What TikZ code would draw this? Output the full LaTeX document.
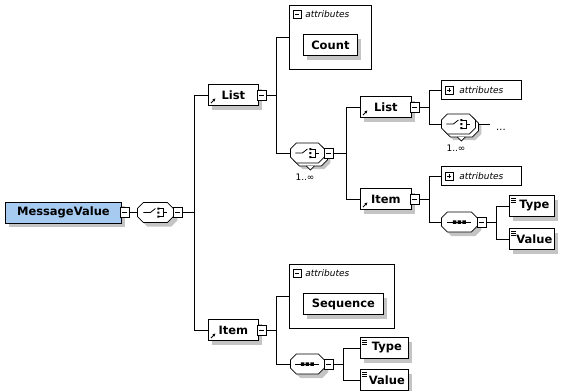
\documentclass[tikz,border=0pt]{standalone}
\usepackage{fontspec}
\setmainfont{DejaVu Sans}
\usepackage{tikz}
\usetikzlibrary{shadows, arrows.meta}

\definecolor{rootblue}{RGB}{166,202,240}
\definecolor{shade}{RGB}{196,196,196}

% compositor outline, drawn round the origin
\newcommand{\octagon}[2][]{\draw[#1] (-#2,-4) -- (-#2+6,-10) -- (#2-6,-10) -- (#2,-4)
    -- (#2,4) -- (#2-6,10) -- (-#2+6,10) -- (-#2,4) -- cycle;}
\newcommand{\choicesym}{%
    \draw (-12,0) -- (-5,0) -- (0,-4);
    \fill (2,-5) rectangle (4,-3) (2,-1) rectangle (4,1) (2,3) rectangle (4,5);
    \draw (4,-4) -- (8,-4) -- (8,4) -- (4,4) (8,0) -- (12,0);}
\newcommand{\seqsym}{%
    \draw (-12,0) -- (12,0);
    \fill (-6.5,-1.75) rectangle (-3,1.75) (-1.75,-1.75) rectangle (1.75,1.75) (3,-1.75) rectangle (6.5,1.75);}

\begin{document}
\begin{tikzpicture}[x=1pt, y=-1pt, line width=0.8pt,
    shadowed/.style={general shadow={shadow xshift=4pt, shadow yshift=-4pt, fill=shade}},
    elem/.style={draw, fill=white, shadowed, anchor=west, minimum width=#1, minimum height=21, inner sep=0,
        font=\bfseries\fontsize{11.5}{12}\selectfont},
    refelem/.style={elem=#1, path picture={
        \draw[-{Stealth[length=3pt, width=3pt]}, line width=0.9pt]
            ([shift={(2.5,-2.5)}]path picture bounding box.south west) -- ++(4.5,-4.5);}},
    simple/.style={elem=#1, execute at begin node=\hspace*{5pt}, path picture={
        \draw[line width=0.6pt] ([shift={(2,2.5)}]path picture bounding box.north west) -- ++(5,0)
            ++(-5,2) -- ++(5,0) ++(-5,2) -- ++(5,0);}},
    expbox/.style={draw, fill=white, anchor=west, minimum width=9, minimum height=10, inner sep=0,
        path picture={\draw ([xshift=-2.5pt]path picture bounding box.center) -- ++(5,0);}},
    compnode/.style={anchor=west, minimum width=#1, minimum height=20, inner sep=0},
    attrminus/.style={path picture={
        \draw[line width=0.6pt] ([shift={(4pt,4pt)}]path picture bounding box.west) rectangle ++(8,8);
        \draw[line width=0.6pt] ([shift={(6pt,0pt)}]path picture bounding box.west) -- ++(4,0);}},
    attrplus/.style={path picture={
        \draw[line width=0.6pt] ([shift={(4pt,4pt)}]path picture bounding box.west) rectangle ++(8,8);
        \draw[line width=0.6pt] ([shift={(6pt,0pt)}]path picture bounding box.west) -- ++(4,0);
        \draw[line width=0.6pt] ([shift={(8pt,2pt)}]path picture bounding box.west) -- ++(0,4);}},
    attrgroup/.style={draw, fill=white, anchor=north west, inner sep=0},
    attrhead/.style={attrminus, anchor=north west, inner xsep=0, inner ysep=2,
        font=\itshape\fontsize{9}{10}\selectfont},
    attrclosed/.style={attrplus, draw, fill=white, anchor=west, minimum height=19, text width=72,
        inner xsep=4, inner ysep=0, align=left, font=\itshape\fontsize{9}{10}\selectfont},
    mult/.style={inner sep=0, font=\fontsize{9}{10}\selectfont}]
    \useasboundingbox (0,0) rectangle (563,391);

    % root element
    \node[elem=116, fill=rootblue] (mv) at (5,212.5) {MessageValue};
    \node[expbox] (mvx) at ([xshift=-2pt]mv.east) {};
    \node[compnode=36] (ch1) at (137,212.5) {};
    \begin{scope}[shift={(ch1.center)}]
        \octagon[draw=none, fill=shade, shift={(4,4)}]{18}
        \octagon[fill=white]{18}
        \choicesym
    \end{scope}
    \node[expbox] (ch1x) at ([xshift=-1pt]ch1.east) {};
    \draw (mvx.east) -- (ch1.west);

    \node[refelem=50] (list1) at (208,95) {List};
    \node[expbox] (list1x) at ([xshift=-2pt]list1.east) {};
    \node[refelem=50] (item1) at (208,330) {Item};
    \node[expbox] (item1x) at ([xshift=-2pt]item1.east) {};
    \draw (ch1x.east) -- ++(12,0) |- (list1.west);
    \draw (ch1x.east) -- ++(12,0) |- (item1.west);

    % List
    \node[attrgroup, minimum width=82, minimum height=64] (attr1) at (289,5) {};
    \node[attrhead] (attr1h) at (289,8) {\hspace*{16pt}attributes};
    \node[elem=54] (count) at (303,45) {Count};
    \node[compnode=34] (ch2) at (290,153) {};
    \begin{scope}[shift={(ch2.center)}]
        \octagon[draw=none, fill=shade, shift={(6,6)}]{17}
        \octagon[fill=white, shift={(3,3)}]{17}
        \draw[fill=white] (-1,13) -- (3,17) -- (7,13);
        \octagon[fill=white]{17}
        \choicesym
    \end{scope}
    \node[expbox] (ch2x) at ([xshift=-1pt]ch2.east) {};
    \node[mult] (ch2m) at (305,177) {1..∞};
    \draw (list1x.east) -- ++(10,0) |- (attr1.west);
    \draw (list1x.east) -- ++(10,0) |- (ch2.west);

    \node[refelem=51] (list2) at (360,107) {List};
    \node[expbox] (list2x) at ([xshift=-2pt]list2.east) {};
    \node[refelem=51] (item2) at (360,199) {Item};
    \node[expbox] (item2x) at ([xshift=-2pt]item2.east) {};
    \draw (ch2x.east) -- ++(13,0) |- (list2.west);
    \draw (ch2x.east) -- ++(13,0) |- (item2.west);

    \node[attrclosed] (attr2) at (441,90) {\hspace*{14pt}attributes};
    \node[compnode=34] (ch3) at (441,124) {};
    \begin{scope}[shift={(ch3.center)}]
        \octagon[draw=none, fill=shade, shift={(6,6)}]{17}
        \octagon[fill=white, shift={(3,3)}]{17}
        \draw[fill=white] (-1,13) -- (3,17) -- (7,13);
        \octagon[fill=white]{17}
        \choicesym
    \end{scope}
    \node[mult] (ch3m) at (456,148) {1..∞};
    \coordinate (ch3end) at (490,124);
    \node[inner sep=0] (more) at (501,130) {...};
    \draw (list2x.east) -- ++(10,0) |- (attr2.west);
    \draw (list2x.east) -- ++(10,0) |- (ch3.west);
    \draw ([xshift=3pt]ch3.east) -- (ch3end);

    \node[attrclosed] (attr3) at (441,176) {\hspace*{14pt}attributes};
    \node[compnode=36] (seq2) at (441,222) {};
    \begin{scope}[shift={(seq2.center)}]
        \octagon[draw=none, fill=shade, shift={(4,4)}]{18}
        \octagon[fill=white]{18}
        \seqsym
    \end{scope}
    \node[expbox] (seq2x) at ([xshift=-1pt]seq2.east) {};
    \node[simple=45] (type2) at (509,206) {Type};
    \node[simple=45] (value2) at (509,239) {Value};
    \draw (item2x.east) -- ++(10,0) |- (attr3.west);
    \draw (item2x.east) -- ++(10,0) |- (seq2.west);
    \draw (seq2x.east) -- ++(10,0) |- (type2.west);
    \draw (seq2x.east) -- ++(10,0) |- (value2.west);

    % Item
    \node[attrgroup, minimum width=105, minimum height=64] (attr4) at (289,264) {};
    \node[attrhead] (attr4h) at (289,267) {\hspace*{16pt}attributes};
    \node[elem=80] (sequence) at (303,304) {Sequence};
    \node[compnode=34] (seq1) at (290,364) {};
    \begin{scope}[shift={(seq1.center)}]
        \octagon[draw=none, fill=shade, shift={(4,4)}]{17}
        \octagon[fill=white]{17}
        \seqsym
    \end{scope}
    \node[expbox] (seq1x) at ([xshift=-1pt]seq1.east) {};
    \node[simple=48] (type1) at (360,348) {Type};
    \node[simple=48] (value1) at (360,380) {Value};
    \draw (item1x.east) -- ++(10,0) |- (attr4.west);
    \draw (item1x.east) -- ++(10,0) |- (seq1.west);
    \draw (seq1x.east) -- ++(10,0) |- (type1.west);
    \draw (seq1x.east) -- ++(10,0) |- (value1.west);
\end{tikzpicture}
\end{document}
